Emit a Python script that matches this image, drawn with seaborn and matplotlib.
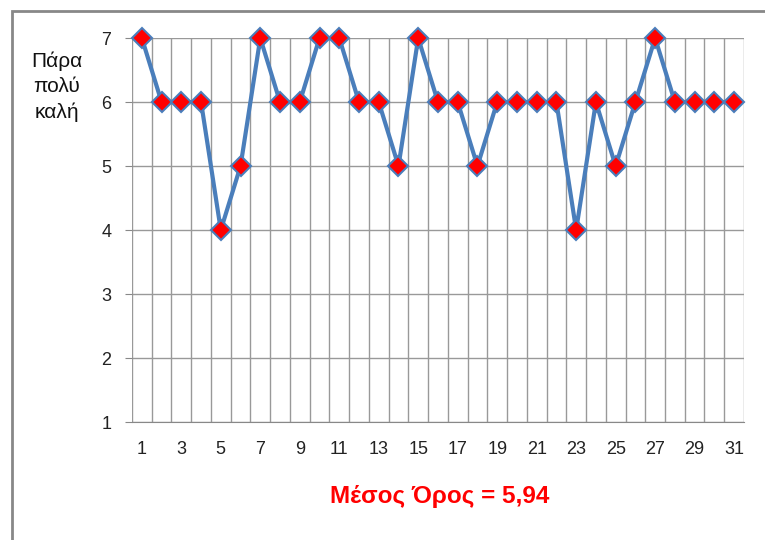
import seaborn as sns
import pandas as pd
import numpy as np
import matplotlib.pyplot as plt
from matplotlib.patches import Rectangle

# Τιμές ανά ερωτηθέντα (1..31)
ατομα = list(range(1, 32))
βαθμοι = [7, 6, 6, 6, 4, 5, 7, 6, 6, 7,
          7, 6, 6, 5, 7, 6, 6, 5, 6, 6,
          6, 6, 4, 6, 5, 6, 7, 6, 6, 6,
          6]
y_ticks = [1, 2, 3, 4, 5, 6, 7]
x_labels = list(range(1, 32, 2))

df = pd.DataFrame({'Άτομο': ατομα, 'Βαθμός': βαθμοι})
mesos = round(np.mean(βαθμοι), 2)

sns.set_style('white')
plt.rcParams['font.family'] = ['Liberation Sans', 'DejaVu Sans']

fig = plt.figure(figsize=(7.65, 5.4), dpi=100)
ax = fig.add_axes([0.1725, 0.2185, 0.8, 0.711])

sns.lineplot(data=df, x='Άτομο', y='Βαθμός', ax=ax, color='#4a7ebb',
             linewidth=3, marker='D', markersize=10,
             markerfacecolor='red', markeredgecolor='#4a7ebb',
             markeredgewidth=1.5, zorder=5, clip_on=False)

ax.set_xlim(0.5, 31.5)
ax.set_ylim(1, 7)
ax.set_yticks(y_ticks)
ax.set_xticks(x_labels)
ax.set_xticks(np.arange(0.5, 32, 1), minor=True)
ax.tick_params(axis='x', which='major', length=0, pad=14, labelsize=13, colors='#222222')
ax.tick_params(axis='x', which='minor', length=6, color='#888888', width=1, direction='out')
ax.tick_params(axis='y', length=5, color='#888888', labelsize=13, pad=10, left=True,
               labelcolor='#222222')
ax.grid(which='minor', axis='x', color='#999999', linewidth=1)
ax.grid(which='major', axis='y', color='#999999', linewidth=1)
ax.grid(which='major', axis='x', visible=False)
for s in ax.spines.values():
    s.set_visible(False)
ax.spines['bottom'].set_visible(True)
ax.spines['bottom'].set_color('#888888')
ax.set_xlabel('')
ax.set_ylabel('')

fig.text(57 / 765, 1 - 87 / 540, 'Πάρα\nπολύ\nκαλή', ha='center', va='center',
         fontsize=15, linespacing=1.4, color='#111111')
fig.text(440 / 765, 1 - 497 / 540, f'Μέσος Όρος = {mesos:.2f}'.replace('.', ','),
         ha='center', va='center', fontsize=17.5, fontweight='bold', color='red')

fig.patches.append(Rectangle((12 / 765, -0.05), 1.0, 1 - 11 / 540 + 0.05,
                             transform=fig.transFigure, fill=False,
                             edgecolor='#888888', linewidth=2))

fig.savefig('out.png', dpi=100)
